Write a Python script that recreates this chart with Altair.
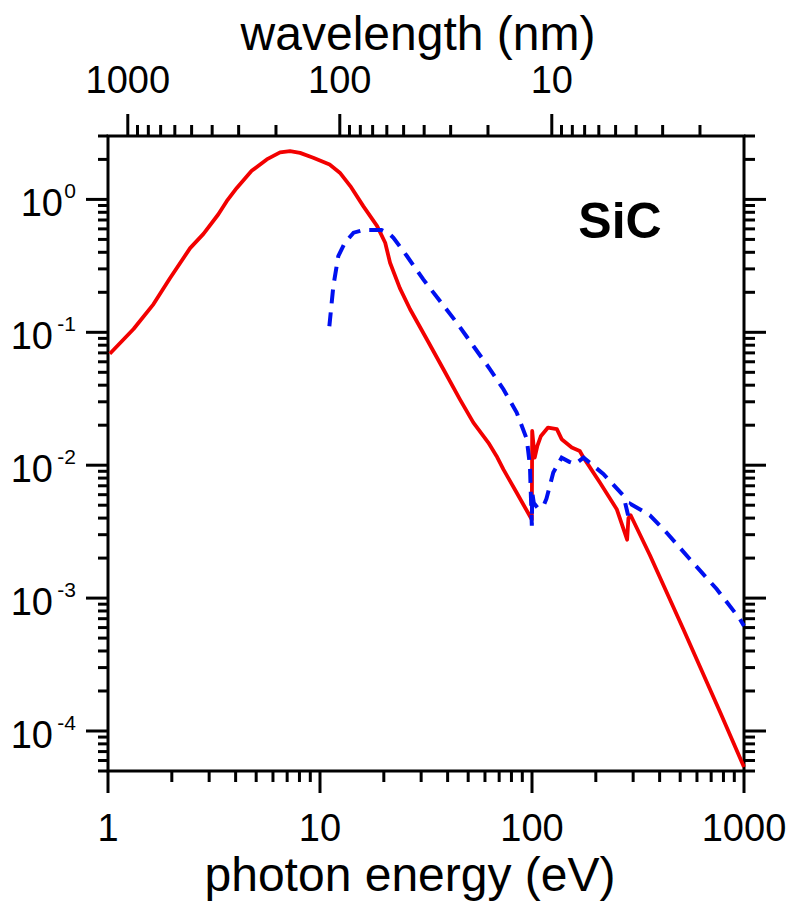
import altair as alt
import pandas as pd

# ---- data ----
red_energy = [1.02, 1.32, 1.64, 1.96, 2.44, 2.82, 3.31, 3.63, 4.05, 4.76, 5.61, 6.48, 7.22,
              8.05, 9.29, 11.1, 12.4, 13.9, 16.0, 18.6, 20.3, 21.4, 23.8, 26.6, 31.9, 38.2,
              45.7, 52.9, 62.2, 68.1, 73.3, 84.7, 99.8, 100.2, 103, 106, 110, 119, 131, 138,
              154, 168, 175, 209, 251, 281, 285, 292, 360, 517, 771, 1000]
red_value = [0.069, 0.106, 0.163, 0.255, 0.43, 0.55, 0.77, 0.97, 1.22, 1.64, 2.0, 2.26, 2.31,
             2.24, 2.06, 1.83, 1.59, 1.26, 0.89, 0.63, 0.472, 0.334, 0.215, 0.149, 0.0886, 0.0527,
             0.0313, 0.0209, 0.0148, 0.0117, 0.0093, 0.0062, 0.0039, 0.0181, 0.0114, 0.014, 0.0165,
             0.0192, 0.0187, 0.0157, 0.0136, 0.0128, 0.0114, 0.0074, 0.00467, 0.00275, 0.0040,
             0.0042, 0.0021, 0.000585, 0.000139, 0.0000535]

blue_energy = [11.07, 11.56, 12.2, 13.1, 14.4, 16.0, 19.5, 21.4, 22.2, 25.7, 30.7, 36.8, 44.2,
               52.9, 63.4, 73.3, 84.7, 94.5, 97.8, 99.8, 100.3, 102, 106, 113, 117, 126, 138,
               150, 160, 175, 217, 270, 284, 292, 360, 432, 556, 743, 957, 1000]
blue_value = [0.111, 0.223, 0.375, 0.472, 0.562, 0.588, 0.588, 0.545, 0.515, 0.375, 0.25, 0.172,
              0.118, 0.0789, 0.0527, 0.0373, 0.0249, 0.0157, 0.0099, 0.0035, 0.0062, 0.0052,
              0.0048, 0.0049, 0.0056, 0.0088, 0.0114, 0.0106, 0.0102, 0.0114, 0.0086, 0.0059,
              0.0042, 0.0051, 0.0042, 0.0031, 0.00196, 0.00117, 0.000695, 0.000616]

energy_major = [1, 10, 100, 1000]
energy_major_labels = ["1", "10", "100", "1000"]
energy_minor = [2, 3, 4, 5, 6, 7, 8, 9, 20, 30, 40, 50, 60, 70, 80, 90,
                200, 300, 400, 500, 600, 700, 800, 900]

wl_major = [1000, 100, 10]
wl_major_labels = ["1000", "100", "10"]
wl_minor = [900, 800, 700, 600, 500, 400, 300, 200, 90, 80, 70, 60, 50, 40, 30, 20,
            9, 8, 7, 6, 5, 4, 3, 2]

y_major = [1, 0.1, 0.01, 0.001, 0.0001]
y_exponents = ["0", "-1", "-2", "-3", "-4"]
y_minor = [3, 2, 0.9, 0.8, 0.7, 0.6, 0.5, 0.4, 0.3, 0.2,
           0.09, 0.08, 0.07, 0.06, 0.05, 0.04, 0.03, 0.02,
           0.009, 0.008, 0.007, 0.006, 0.005, 0.004, 0.003, 0.002,
           0.0009, 0.0008, 0.0007, 0.0006, 0.0005, 0.0004, 0.0003, 0.0002,
           0.00009, 0.00008, 0.00007, 0.00006, 0.00005]

HC = 1239.84  # eV*nm

FONT = "Liberation Sans"
W, H = 636, 635
MAJ, MIN = 22, 11

xs = alt.Scale(type="log", domain=[1, 1000], nice=False)
ys = alt.Scale(type="log", domain=[5e-5, 3], nice=False)

red_df = pd.DataFrame({"E": red_energy, "v": red_value})
blue_df = pd.DataFrame({"E": blue_energy, "v": blue_value})
emaj_df = pd.DataFrame({"E": energy_major, "lab": energy_major_labels})
emin_df = pd.DataFrame({"E": energy_minor})
wmaj_df = pd.DataFrame({"wl": wl_major, "lab": wl_major_labels})
wmin_df = pd.DataFrame({"wl": wl_minor})
ymaj_df = pd.DataFrame({"v": y_major, "e": y_exponents, "k": [0, 1, 1, 1, 1]})
ymin_df = pd.DataFrame({"v": y_minor})
one = pd.DataFrame({"a": [0]})

X = lambda: alt.X("E:Q", scale=xs, axis=None)
Y = lambda: alt.Y("v:Q", scale=ys, axis=None)

red = alt.Chart(red_df).mark_line(color="#f20000", strokeWidth=3.8, strokeJoin="round").encode(
    x=X(), y=Y(), order="E:Q")
blue = alt.Chart(blue_df).mark_line(color="#0010f0", strokeWidth=4, strokeDash=[14, 9]).encode(
    x=X(), y=Y(), order="E:Q")

def xrule(df, y0, y1, calc=False):
    c = alt.Chart(df)
    if calc:
        c = c.transform_calculate(E=f"{HC}/datum.wl")
    return c.mark_rule(color="black", strokeWidth=3).encode(
        x=X(), y=alt.value(y0), y2=alt.value(y1))

def yrule(df, x0, x1):
    return alt.Chart(df).mark_rule(color="black", strokeWidth=3).encode(
        y=Y(), x=alt.value(x0), x2=alt.value(x1))

ticks = [
    xrule(emaj_df, H, H + MAJ), xrule(emin_df, H, H + MIN),
    xrule(wmaj_df, 0, -MAJ, True), xrule(wmin_df, 0, -MIN, True),
    yrule(ymaj_df, 0, -MAJ), yrule(ymin_df, 0, -MIN + 1),
    yrule(ymaj_df, W, W + MAJ), yrule(ymin_df, W, W + MIN),
]

bottom_labels = alt.Chart(emaj_df).mark_text(font=FONT, fontSize=38, align="center",
                                             baseline="middle", dy=4).encode(
    x=X(), y=alt.value(H + 55), text="lab:N")
top_labels = alt.Chart(wmaj_df).transform_calculate(E=f"{HC}/datum.wl").mark_text(
    font=FONT, fontSize=38, align="center", baseline="middle", dy=4).encode(
    x=X(), y=alt.value(-58), text="lab:N")

ten0 = alt.Chart(ymaj_df).transform_filter("datum.k == 0").mark_text(
    font=FONT, fontSize=38, align="right", baseline="middle", dy=6).encode(
    y=Y(), x=alt.value(-45), text=alt.value("10"))
ten1 = alt.Chart(ymaj_df).transform_filter("datum.k == 1").mark_text(
    font=FONT, fontSize=38, align="right", baseline="middle", dy=6).encode(
    y=Y(), x=alt.value(-55), text=alt.value("10"))
exps = alt.Chart(ymaj_df).mark_text(font=FONT, fontSize=21, align="right",
                                    baseline="top", dy=-18).encode(
    y=Y(), x=alt.value(-32), text="e:N")

top_title = alt.Chart(one).mark_text(font=FONT, fontSize=48, align="center",
                                     baseline="alphabetic").encode(
    x=alt.value(310), y=alt.value(-86), text=alt.value("wavelength (nm)"))
bottom_title = alt.Chart(one).mark_text(font=FONT, fontSize=48, align="center",
                                        baseline="alphabetic").encode(
    x=alt.value(302), y=alt.value(755), text=alt.value("photon energy (eV)"))
sic = alt.Chart(one).mark_text(font=FONT, fontSize=50, fontWeight="bold", align="center",
                               baseline="alphabetic").encode(
    x=alt.value(512), y=alt.value(102), text=alt.value("SiC"))

chart = alt.layer(
    red, blue, *ticks, bottom_labels, top_labels, ten0, ten1, exps,
    top_title, bottom_title, sic
).properties(
    width=W, height=H,
    padding={"left": 108, "top": 136, "right": 47, "bottom": 133},
    autosize=alt.AutoSizeParams(type="none"),
    background="white",
).configure_view(stroke="black", strokeWidth=3)

chart.save("out.html", embed_options={"renderer": "svg", "actions": False})
